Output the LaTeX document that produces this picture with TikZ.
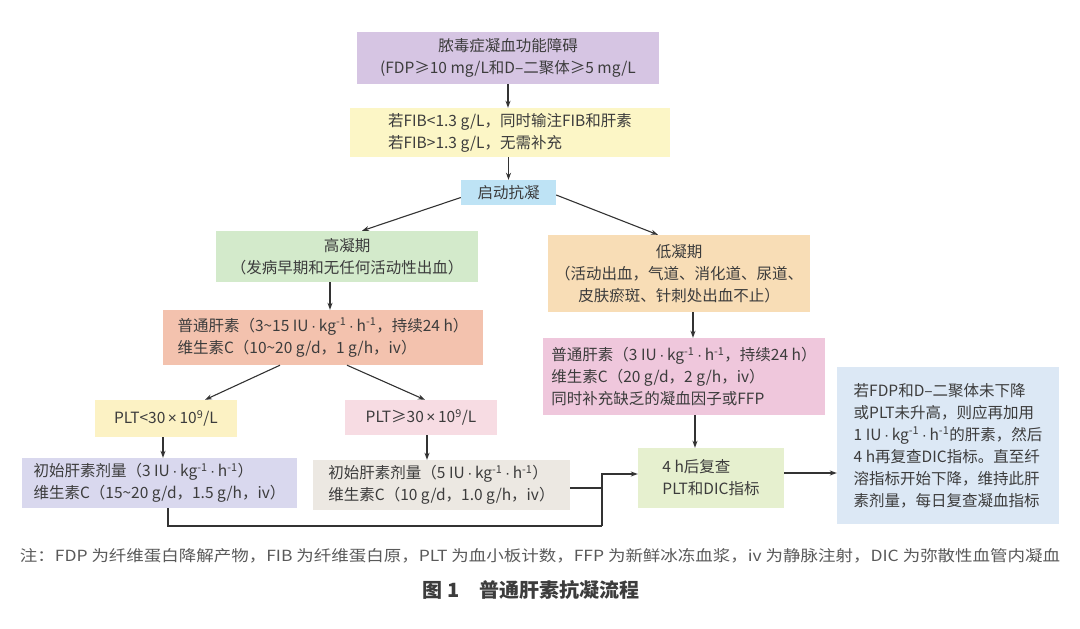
\documentclass[tikz,border=0pt]{standalone}
\usepackage{fontspec}
\setmainfont{Noto Sans CJK SC}
\newfontfamily\lat{Liberation Sans}
\usetikzlibrary{arrows.meta,calc}
\definecolor{txt}{HTML}{3C3C3C}
\definecolor{ln}{HTML}{333333}
\definecolor{cTop}{HTML}{D6C5E3}
\definecolor{cFib}{HTML}{FCF6C6}
\definecolor{cBlue}{HTML}{BEE3F5}
\definecolor{cGreen}{HTML}{D3EACB}
\definecolor{cOrange}{HTML}{F8DDB6}
\definecolor{cSalmon}{HTML}{F3C2AE}
\definecolor{cPink}{HTML}{EFC7DC}
\definecolor{cYel}{HTML}{FCF2C4}
\definecolor{cRose}{HTML}{F7DCE3}
\definecolor{cLav}{HTML}{D9D8EE}
\definecolor{cBeige}{HTML}{ECE8E2}
\definecolor{cLime}{HTML}{E6F0CF}
\definecolor{cSky}{HTML}{DCE8F5}
\newcommand{\sps}[1]{\textsuperscript{#1}}
\newcommand{\dt}{{\lat\,·\,}}
\newcommand{\tms}{{\lat\,×\,}}
\tikzset{
  box/.style={draw=none, inner sep=0pt, align=left, text=txt,
    font=\fontsize{15.5}{22}\selectfont},
  cbox/.style={box, align=center},
  arr/.style={draw=ln, line width=1.1pt, -{Stealth[length=7pt,width=5pt]}},
  plain/.style={draw=ln, line width=1.1pt}
}
\begin{document}
\begin{tikzpicture}[x=1pt,y=-1pt]
\useasboundingbox (0,0) rectangle (1080,629);
\node[cbox, fill=cTop, minimum width=302, minimum height=52] (top) at (508,58)
  {脓毒症凝血功能障碍\\(FDP≥10 mg/L和D–二聚体≥5 mg/L};
\node[box, fill=cFib, minimum width=320, minimum height=49] (fib) at (510,132.5)
  {若FIB<1.3 g/L，同时输注FIB和肝素\\若FIB>1.3 g/L，无需补充};
\node[cbox, fill=cBlue, minimum width=95, minimum height=25] (start) at (508.5,192.5)
  {启动抗凝};
\node[cbox, fill=cGreen, minimum width=262, minimum height=51] (high) at (347,256.5)
  {高凝期\\（发病早期和无任何活动性出血）};
\node[cbox, fill=cOrange, minimum width=262, minimum height=77] (low) at (679,273.5)
  {低凝期\\（活动出血，气道、消化道、尿道、\\皮肤瘀斑、针刺处出血不止）};
\node[box, fill=cSalmon, minimum width=320, minimum height=55] (hep) at (323,337.5)
  {普通肝素（3\textasciitilde 15 IU\dt kg\sps{-1}\dt h\sps{-1}，持续24 h）\\维生素C（10\textasciitilde 20 g/d，1 g/h，iv）};
\node[box, fill=cPink, minimum width=282, minimum height=77] (hepl) at (684,376.5)
  {普通肝素（3 IU\dt kg\sps{-1}\dt h\sps{-1}，持续24 h）\\维生素C（20 g/d，2 g/h，iv）\\同时补充缺乏的凝血因子或FFP};
\node[cbox, fill=cYel, minimum width=142, minimum height=37] (plta) at (166,418.5)
  {PLT<30\tms 10\sps{9}/L};
\node[cbox, fill=cRose, minimum width=152, minimum height=35] (pltb) at (421,417.5)
  {PLT≥30\tms 10\sps{9}/L};
\node[box, fill=cLav, minimum width=275, minimum height=50] (inia) at (159.5,483)
  {初始肝素剂量（3 IU\dt kg\sps{-1}\dt h\sps{-1}）\\维生素C（15\textasciitilde 20 g/d，1.5 g/h，iv）};
\node[box, fill=cBeige, minimum width=257, minimum height=50] (inib) at (441.5,485)
  {初始肝素剂量（5 IU\dt kg\sps{-1}\dt h\sps{-1}）\\维生素C（10 g/d，1.0 g/h，iv）};
\node[box, fill=cLime, minimum width=146, minimum height=60] (check) at (711,478)
  {4 h后复查\\PLT和DIC指标};
\node[box, fill=cSky, minimum width=222, minimum height=157] (note) at (948,445.5)
  {若FDP和D–二聚体未下降\\或PLT未升高，则应再加用\\1 IU\dt kg\sps{-1}\dt h\sps{-1}的肝素，然后\\4 h再复查DIC指标。直至纤\\溶指标开始下降，维持此肝\\素剂量，每日复查凝血指标};
% connectors
\draw[arr] (top.south) -- (top.south |- fib.north);
\draw[arr] ([xshift=-1.5pt]fib.south) -- ([xshift=-1.5pt]fib.south |- start.north);
\draw[arr] ([yshift=-5pt]start.west) -- ([xshift=15pt]high.north);
\draw[arr] ([yshift=-2.5pt]start.east) -- ([xshift=-21pt]low.north);
\draw[arr] ([xshift=-17pt]high.south) -- ([xshift=-17pt]high.south |- hep.north);
\draw[arr] ([xshift=14pt]low.south) -- ([xshift=14pt]low.south |- hepl.north);
\draw[arr] ([xshift=-43pt]hep.south) -- ([xshift=39pt]plta.north);
\draw[arr] ([xshift=24pt]hep.south) -- ([xshift=4pt]pltb.north);
\draw[arr] ([xshift=-3pt]plta.south) -- ([xshift=-3pt]plta.south |- inia.north);
\draw[arr] ([xshift=6pt]pltb.south) -- ([xshift=6pt]pltb.south |- inib.north);
\draw[arr] ([xshift=11pt]hepl.south) -- ([xshift=11pt]hepl.south |- check.north);
\coordinate (jn) at (602,526);
\draw[plain] ([xshift=8.5pt]inia.south) -- ([xshift=8.5pt]inia.south |- jn) -- (jn);
\draw[plain] ([yshift=-3pt]inib.east) -- ([yshift=-3pt]inib.east -| jn);
\draw[arr] (jn) -- ([yshift=4pt]jn |- check.west) -- ([yshift=4pt]check.west);
\draw[arr] ([yshift=5pt]check.east) -- ([yshift=5pt]check.east -| note.west);
% captions
\node[text=txt!85, inner sep=0pt] (cap) at (540,556)
  {\resizebox{1040pt}{13pt}{注：FDP 为纤维蛋白降解产物，FIB 为纤维蛋白原，PLT 为血小板计数，FFP 为新鲜冰冻血浆，iv 为静脉注射，DIC 为弥散性血管内凝血}};
\node[text=txt, inner sep=0pt, font=\bfseries] (title) at (531,590)
  {\resizebox{217pt}{17pt}{图 1\hspace{1em}普通肝素抗凝流程}};
\end{tikzpicture}
\end{document}
